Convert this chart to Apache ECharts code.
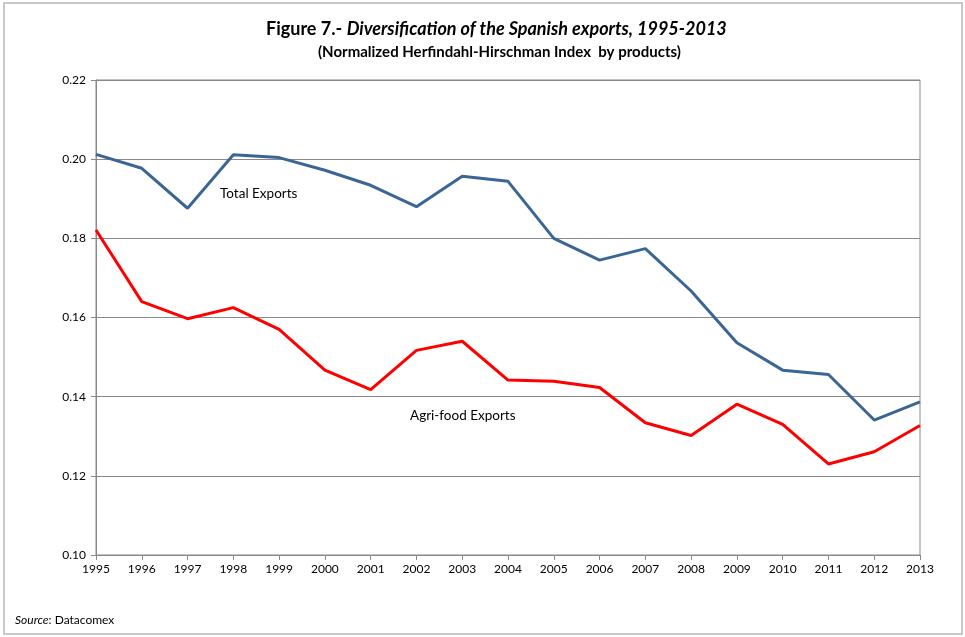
<!DOCTYPE html>
<html><head><meta charset="utf-8">
<script src="https://cdn.jsdelivr.net/npm/echarts@6/dist/echarts.min.js"></script>
<style>html,body{margin:0;padding:0;background:#fff}#c{width:965px;height:637px}</style>
</head><body><div id="c"></div>
<script>
var years = ['1995','1996','1997','1998','1999','2000','2001','2002','2003','2004','2005','2006','2007','2008','2009','2010','2011','2012','2013'];
var totalExports = [0.2012,0.1977,0.1876,0.2011,0.2004,0.1972,0.1934,0.1880,0.1957,0.1944,0.1800,0.1745,0.1774,0.1667,0.1536,0.1467,0.1456,0.1341,0.1387];
var agriExports = [0.1821,0.1640,0.1597,0.1625,0.1570,0.1467,0.1418,0.1517,0.1540,0.1442,0.1439,0.1423,0.1334,0.1302,0.1381,0.1330,0.1230,0.1261,0.1327];
var yTicks = {min:0.10, max:0.22, interval:0.02};

var FONT = 'Lato, "Open Sans", sans-serif';
var chart = echarts.init(document.getElementById('c'), null, {renderer:'canvas'});
chart.setOption({
  animation:false,
  backgroundColor:'#fff',
  title:[{
    text:'{a|Figure 7.- }{b|Diversification of the Spanish exports, 1995-2013}',
    left:261, top:15,
    textStyle:{rich:{
      a:{fontFamily:FONT,fontWeight:'bold',fontSize:18,color:'#000'},
      b:{fontFamily:FONT,fontWeight:'bold',fontStyle:'italic',fontSize:18,color:'#000'}
    }}
  },{
    text:'(Normalized Herfindahl-Hirschman Index  by products)',
    left:313, top:40,
    textStyle:{fontFamily:FONT,fontWeight:'bold',fontSize:15,color:'#000'}
  }],
  grid:{left:96,right:45,top:80,bottom:82,show:true,borderColor:'#898989',borderWidth:1},
  xAxis:{
    type:'category', data:years, boundaryGap:false,
    axisLine:{lineStyle:{color:'#898989',width:1}},
    axisTick:{show:true,alignWithLabel:true,length:5,lineStyle:{color:'#898989'}},
    axisLabel:{color:'#000',fontFamily:FONT,fontSize:12,margin:8,interval:0},
    splitLine:{show:false}
  },
  yAxis:{
    type:'value', min:yTicks.min, max:yTicks.max, interval:yTicks.interval,
    axisLine:{show:true,lineStyle:{color:'#898989',width:1}},
    axisTick:{show:true,length:5,lineStyle:{color:'#898989'}},
    axisLabel:{color:'#000',fontFamily:FONT,fontSize:12,margin:10,formatter:function(v){return v.toFixed(2);}},
    splitLine:{show:true,lineStyle:{color:'#898989',width:1}}
  },
  series:[{
    name:'Total Exports', type:'line', data:totalExports, symbol:'none',
    lineStyle:{color:'#3A6595',width:3}, itemStyle:{color:'#3A6595'}
  },{
    name:'Agri-food Exports', type:'line', data:agriExports, symbol:'none',
    lineStyle:{color:'#FF0000',width:3}, itemStyle:{color:'#FF0000'}
  }],
  graphic:[
    {type:'rect', shape:{x:4,y:3,width:958,height:631}, style:{fill:'none',stroke:'#c8c8c8',lineWidth:2}, silent:true},
    {type:'text', left:220, top:187, style:{text:'Total Exports', font:'13.5px '+FONT, fill:'#000'}},
    {type:'text', left:410, top:409, style:{text:'Agri-food Exports', font:'13.5px '+FONT, fill:'#000'}},
    {type:'text', left:15, top:614, style:{text:'{i|Source}: Datacomex', font:'12px '+FONT, fill:'#000', rich:{i:{fontStyle:'italic',fontFamily:FONT,fontSize:12}}}}
  ]
});
</script></body></html>
